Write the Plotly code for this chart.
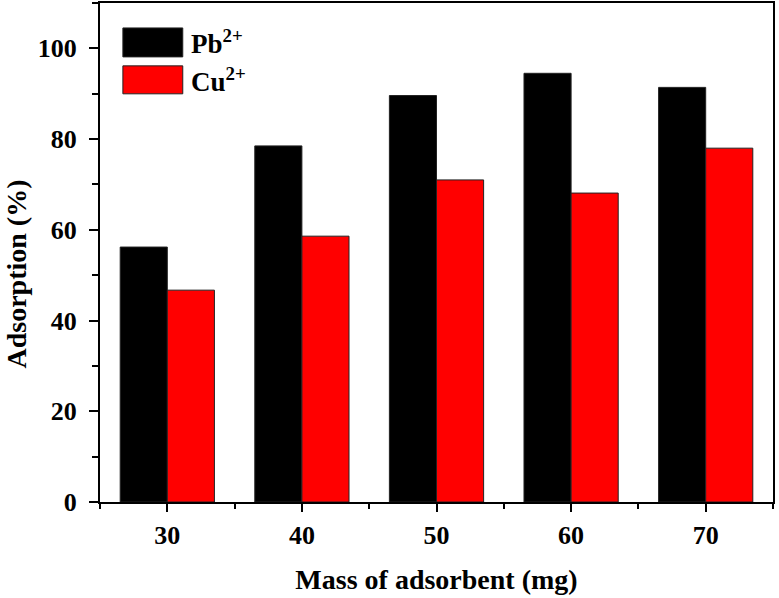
import plotly.graph_objects as go

masses = [30, 40, 50, 60, 70]
pb_values = [56.2, 78.5, 89.6, 94.5, 91.4]
cu_values = [46.7, 58.6, 71.0, 68.1, 78.0]
series_names = ["Pb<sup>2+</sup>", "Cu<sup>2+</sup>"]
series_colors = ["#000000", "#ff0000"]

FONT = "Liberation Serif"

fig = go.Figure()
for name, vals, col in zip(series_names, [pb_values, cu_values], series_colors):
    fig.add_trace(go.Bar(x=masses, y=vals, name=name, marker=dict(color=col, line=dict(color="#222222", width=1)),
                         showlegend=False))

fig.update_layout(
    width=779, height=598,
    margin=dict(l=100, r=6, t=3, b=96),
    paper_bgcolor="white", plot_bgcolor="white",
    barmode="group", bargap=0.3, bargroupgap=0,
    font=dict(family=FONT, color="black"),
)
fig.update_xaxes(
    range=[25, 75], tickmode="linear", tick0=30, dtick=10, automargin=False,
    ticks="outside", ticklen=8, tickwidth=2, tickcolor="black",
    showline=True, linewidth=2, linecolor="black", mirror=True,
    showgrid=False, zeroline=False, ticklabelstandoff=1,
    tickfont=dict(family=FONT, size=26, color="black", weight="bold"),
    minor=dict(ticks="outside", ticklen=5, tickwidth=2, tickcolor="black", dtick=5, tick0=25, showgrid=False),
    title=dict(text="<b>Mass of adsorbent (mg)</b>", font=dict(family=FONT, size=28, color="black"), standoff=20),
)
fig.update_yaxes(
    range=[0, 110], tickmode="linear", tick0=0, dtick=20, automargin=False,
    ticks="outside", ticklen=9, tickwidth=2, tickcolor="black",
    showline=True, linewidth=2, linecolor="black", mirror=True,
    showgrid=False, zeroline=False, ticklabelstandoff=7,
    tickfont=dict(family=FONT, size=26, color="black", weight="bold"),
    minor=dict(ticks="outside", ticklen=6, tickwidth=2, tickcolor="black", dtick=10, tick0=0, showgrid=False),
)

# y-axis title (placed lower than centre, as in the reference)
fig.add_annotation(xref="paper", yref="paper", x=-0.124, y=0.457, xanchor="center", yanchor="middle",
                   text="<b>Adsorption (%)</b>", textangle=-90, showarrow=False,
                   font=dict(family=FONT, size=28, color="black"))

# legend drawn as swatches + labels in paper coordinates
legend_rows = [(0.950, 0.892), (0.874, 0.818)]
for (y1, y0), name, col in zip(legend_rows, series_names, series_colors):
    fig.add_shape(type="rect", xref="paper", yref="paper", x0=0.034, x1=0.123, y0=y0, y1=y1,
                  fillcolor=col, line=dict(color="#222222", width=1))
    fig.add_annotation(xref="paper", yref="paper", x=0.132, y=(y0 + y1) / 2, xanchor="left", yanchor="middle",
                       text="<b>" + name + "</b>", showarrow=False,
                       font=dict(family=FONT, size=27, color="black"))

fig.write_html("out.html", config={"displayModeBar": False},
               post_script="document.body.style.margin='0';")
